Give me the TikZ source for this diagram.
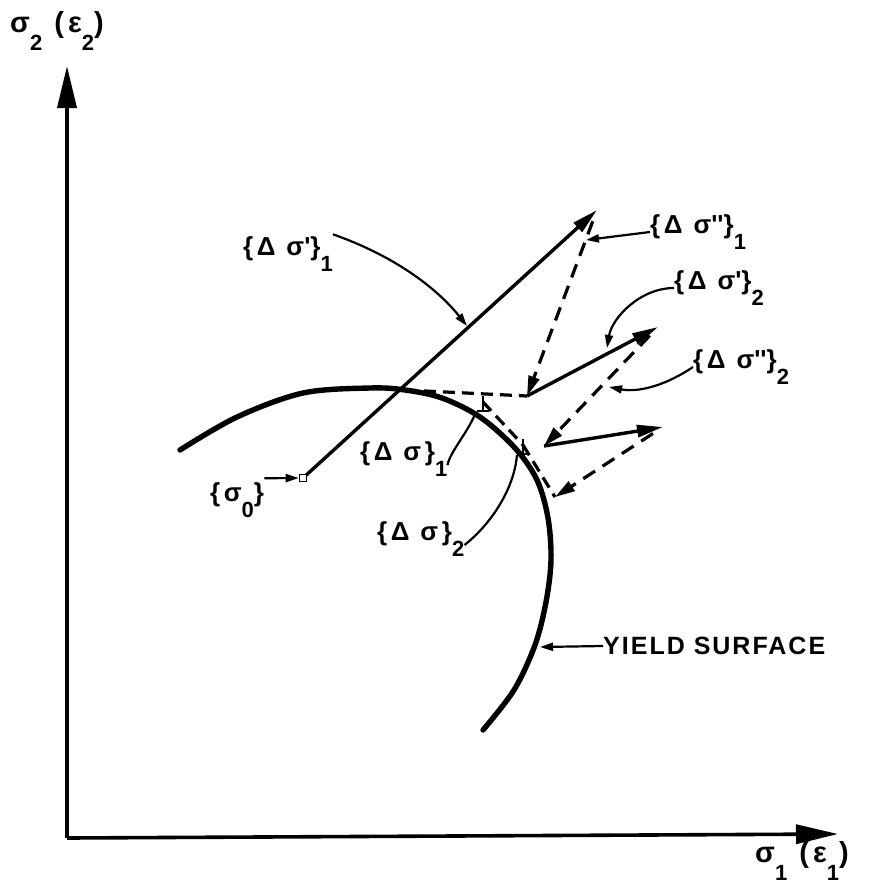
\documentclass[tikz,border=0pt]{standalone}
\usepackage{fontspec}
\setmainfont{Liberation Sans}
\newfontfamily\labfont[LetterSpace=14]{Liberation Sans}
\newfontfamily\ysfont[LetterSpace=8]{Liberation Sans}
\usetikzlibrary{arrows.meta}
\newcommand{\sbs}[1]{\raisebox{-0.62em}{\fontsize{22}{22}\selectfont #1}}
\newcommand{\tq}{\textquotesingle}
\begin{document}
\begin{tikzpicture}[x=1pt,y=-1pt,
  axis/.style={line width=3.6pt,-{Triangle[length=42pt,width=19pt]}},
  vec/.style={line width=3.4pt,-{Triangle[length=26pt,width=12pt]}},
  dvec/.style={line width=3.2pt,dash pattern=on 14pt off 9pt,-{Triangle[length=20pt,width=11pt]}},
  dline/.style={line width=3.2pt,dash pattern=on 12pt off 7pt},
  lead/.style={line width=2.2pt},
  leadar/.style={line width=2.2pt,-{Triangle[length=13pt,width=8pt]}},
  lab/.style={font=\labfont\bfseries\fontsize{26}{28}\selectfont,inner sep=0pt,anchor=west},
  axlab/.style={font=\labfont\bfseries\fontsize{29}{32}\selectfont,inner sep=0pt,anchor=west},
  surf/.style={line width=5.4pt,line cap=round},
  tick/.style={line width=2.6pt}
]
\useasboundingbox (0,0) rectangle (888,887);
% axes
\coordinate (O) at (67,838);
\coordinate (Ytip) at (67,66);
\coordinate (Xtip) at (838,834);
\draw[axis] (O) -- (Ytip);
\draw[axis] (O) -- (Xtip);
\node[axlab] (ax2) at (10,31) {σ\sbs{2} (ε\sbs{2})};
\node[axlab] (ax1) at (755,861) {σ\sbs{1} (ε\sbs{1})};
% yield surface
\draw[surf] plot[smooth,tension=0.55] coordinates {(180,450) (237,417) (303,393) (370,388) (405,390) (442,398) (480,417) (515,448) (537,480) (548,518) (551,560) (546,602) (535,645) (514,690) (483,730)};
% points
\coordinate (s0) at (303,478);
\coordinate (A1) at (597,210);
\coordinate (P1) at (527,396);
\coordinate (A2) at (658,327);
\coordinate (P2) at (544,446);
\coordinate (A3) at (663,427);
\coordinate (P3) at (555,497);
\coordinate (Y1) at (405,390);
\coordinate (T1) at (483,402);
\coordinate (T2) at (523,445);
% vectors
\draw[vec] (s0) -- (A1);
\draw[dvec,shorten <=12pt] (A1) -- (P1);
\draw[vec] (P1) -- (A2);
\draw[dvec,shorten <=12pt] (A2) -- (P2);
\draw[vec] (P2) -- (A3);
\draw[dvec,shorten <=12pt] (A3) -- (P3);
\draw[dline] (Y1) -- (P1);
\draw[dline] (T1) -- (T2);
\draw[dline] (T2) -- (P3);
\draw[tick] ([yshift=-9pt]T1) -- ([yshift=6pt]T1);
\draw[tick] ([xshift=-6pt,yshift=-9pt]T1) -- ([xshift=6pt,yshift=-9pt]T1);
\draw[tick] ([yshift=-9pt]T2) -- ([yshift=6pt]T2);
\draw[tick] ([xshift=-6pt,yshift=-9pt]T2) -- ([xshift=6pt,yshift=-9pt]T2);
% sigma0 marker
\node[draw,line width=1.6pt,minimum size=7pt,inner sep=0pt,fill=white] (sq) at (s0) {};
% labels
\node[lab] (l0) at (210,500) {\{σ\sbs{0}\}};
\node[lab] (l1) at (243,254) {\{Δ σ\tq\}\sbs{1}};
\node[lab] (l2) at (650,232) {\{Δ σ\tq\tq\}\sbs{1}};
\node[lab] (l3) at (674,288) {\{Δ σ\tq\}\sbs{2}};
\node[lab] (l4) at (693,367) {\{Δ σ\tq\tq\}\sbs{2}};
\node[lab] (l5) at (360,459) {\{Δ σ\}\sbs{1}};
\node[lab] (l6) at (377,539) {\{Δ σ\}\sbs{2}};
\node[lab,font=\ysfont\bfseries\fontsize{25}{28}\selectfont] (ys) at (603,646) {YIELD SURFACE};
% leaders
\coordinate (c1) at (467,326);
\coordinate (c2) at (586,240);
\coordinate (c3) at (607,348);
\coordinate (c4) at (609,387);
\coordinate (c5) at (475,414);
\coordinate (c6) at (517,455);
\coordinate (c7) at (540,647);
\draw[leadar] ([yshift=4pt]l0.north east) -- (sq);
\draw[leadar] ([yshift=2pt]l1.north east) .. controls (400,258) and (440,292) .. (c1);
\draw[leadar] (l2.west) -- (c2);
\draw[leadar] (l3.west) .. controls (640,288) and (612,318) .. (c3);
\draw[leadar] (l4.west) .. controls (668,384) and (640,393) .. (c4);
\draw[lead] ([yshift=-6pt]l5.east) .. controls (450,452) and (468,432) .. (c5);
\draw[lead] ([yshift=-6pt]l6.east) .. controls (490,525) and (514,490) .. (c6);
\draw[leadar] (ys.west) -- (c7);
\end{tikzpicture}
\end{document}
